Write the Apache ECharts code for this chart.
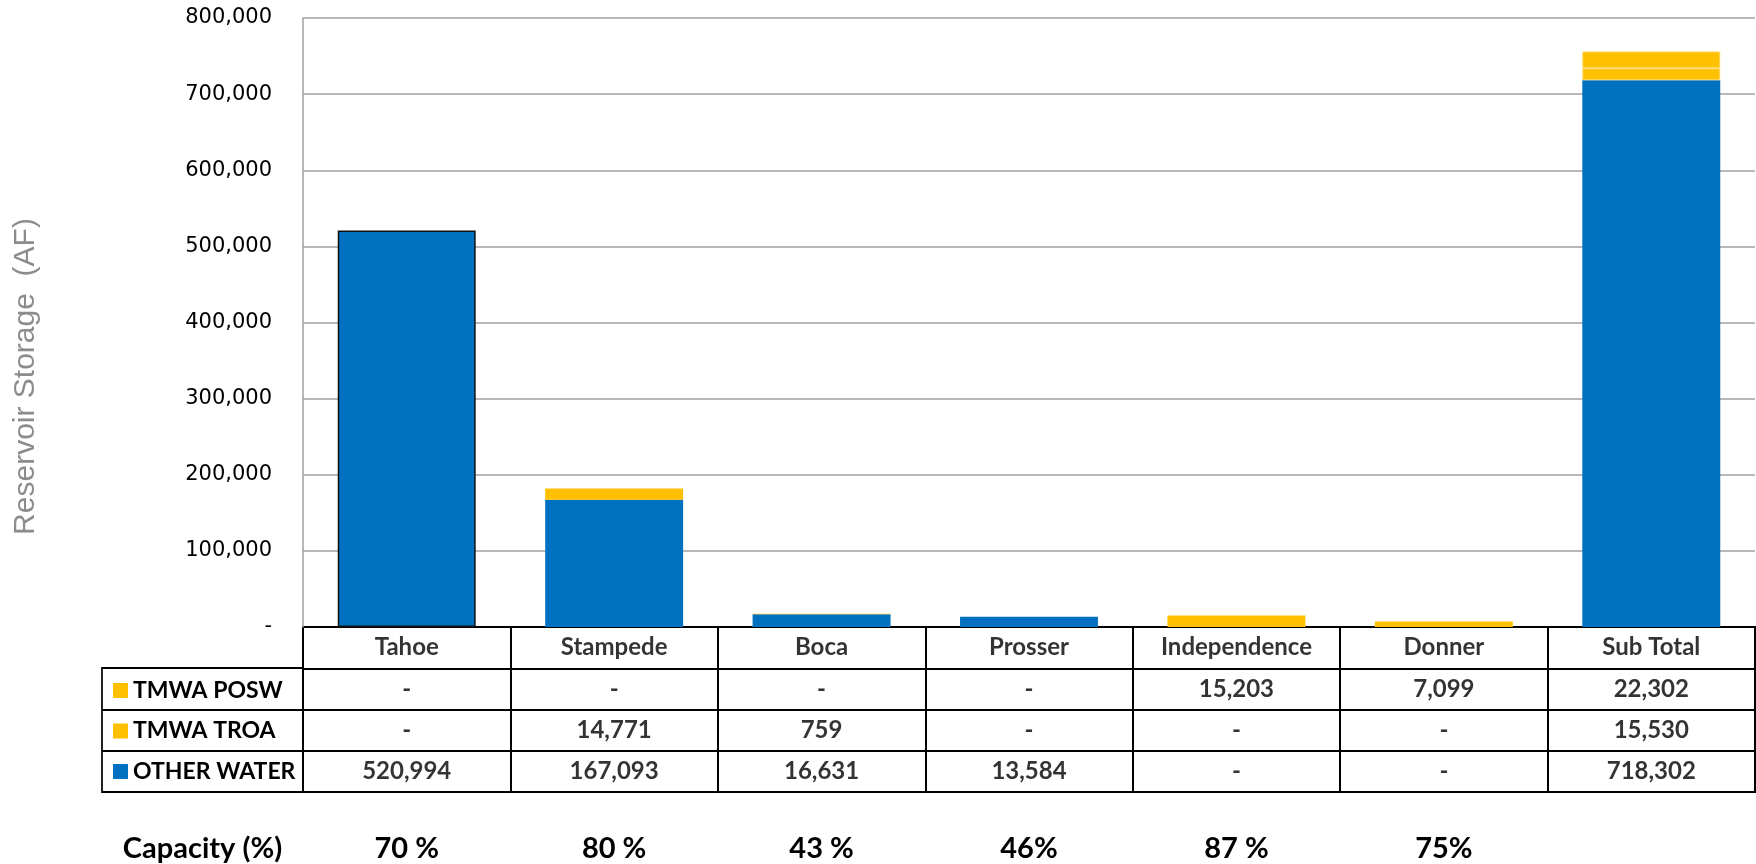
<!DOCTYPE html>
<html>
<head>
<meta charset="utf-8">
<script src="https://cdn.jsdelivr.net/npm/echarts@6/dist/echarts.min.js"></script>
<style>
  html, body { margin: 0; padding: 0; background: #ffffff; }
  #chart { width: 1756px; height: 864px; }
</style>
</head>
<body>
<div id="chart"></div>
<script>
// Reservoir storage by ownership (acre-feet)
const reservoirs = ['Tahoe', 'Stampede', 'Boca', 'Prosser', 'Independence', 'Donner', 'Sub Total'];
const tmwaPosw   = [0, 0, 0, 0, 15203, 7099, 22302];
const tmwaTroa   = [0, 14771, 759, 0, 0, 0, 15530];
const otherWater = [520994, 167093, 16631, 13584, 0, 0, 718302];
const capacity   = ['70 %', '80 %', '43 %', '46%', '87 %', '75%', ''];
const seriesNames = ['TMWA POSW', 'TMWA TROA', 'OTHER WATER'];
const yMin = 0, yMax = 800000, yStep = 100000;

const BLUE = '#0070C0';
const GOLD = '#FFC000';
const TABLE_FONT = { fontFamily: 'Lato', fontWeight: 'bold', color: '#000' };
const SUBTOTAL = reservoirs.length - 1;

const fmt = v => (v === 0 ? '-' : v.toLocaleString('en-US'));

// Table cells: header row of reservoir names, then one row per ownership series
const tableRows = [reservoirs, tmwaPosw.map(fmt), tmwaTroa.map(fmt), otherWater.map(fmt)];
const cellData = [];
tableRows.forEach((row, r) => row.forEach((txt, c) => cellData.push([c, r, txt])));

// Gold segments of the sub-total bar get a thin light edge between them
const goldData = arr => arr.map((v, i) => i === SUBTOTAL
  ? { value: v, itemStyle: { borderColor: '#FFD966', borderWidth: 1 } }
  : v);

const chart = echarts.init(document.getElementById('chart'), null, { renderer: 'canvas' });

chart.setOption({
  animation: false,
  backgroundColor: '#ffffff',
  grid: [
    { left: 303, top: 18, width: 1452, height: 609 },
    { left: 303, top: 627, width: 1452, height: 165, show: true, borderColor: '#000', borderWidth: 2 },
    { left: 102, top: 668, width: 201, height: 124, show: true, borderColor: '#222', borderWidth: 2 }
  ],
  legend: {
    data: seriesNames,
    orient: 'vertical',
    left: 108,
    top: 674,
    icon: 'rect',
    itemWidth: 15,
    itemHeight: 15,
    itemGap: 17.5,
    selectedMode: false,
    textStyle: Object.assign({ fontSize: 23 }, TABLE_FONT)
  },
  xAxis: [
    {
      gridIndex: 0, type: 'category', data: reservoirs,
      axisLine: { show: false }, axisTick: { show: false }, axisLabel: { show: false }
    },
    {
      gridIndex: 1, type: 'category', data: reservoirs, position: 'bottom',
      axisLine: { show: false }, axisTick: { show: false },
      splitLine: { show: true, lineStyle: { color: '#000', width: 2 } },
      axisLabel: Object.assign({
        fontSize: 29, margin: 57, verticalAlign: 'middle',
        formatter: (v, i) => capacity[i]
      }, TABLE_FONT)
    },
    {
      gridIndex: 2, type: 'category', data: ['Capacity (%)'], position: 'bottom',
      axisLine: { show: false }, axisTick: { show: false },
      axisLabel: Object.assign({ fontSize: 29, margin: 57, verticalAlign: 'middle' }, TABLE_FONT)
    }
  ],
  yAxis: [
    {
      gridIndex: 0, type: 'value', min: yMin, max: yMax, interval: yStep,
      name: 'Reservoir Storage  (AF)',
      nameLocation: 'middle',
      nameGap: 262,
      nameRotate: 90,
      nameTextStyle: {
        fontFamily: 'Liberation Sans', fontSize: 30, color: '#8C8C8C',
        padding: [0, 108, 0, 0]
      },
      axisLine: { show: true, lineStyle: { color: '#A0A0A0', width: 1.5 } },
      axisTick: { show: false },
      splitLine: { show: true, lineStyle: { color: '#A0A0A0', width: 1.5 } },
      axisLabel: {
        fontFamily: 'DejaVu Sans', fontSize: 21, color: '#000', margin: 31,
        formatter: v => (v === 0 ? '-' : v.toLocaleString('en-US'))
      }
    },
    {
      gridIndex: 1, type: 'category', data: ['head', 'posw', 'troa', 'other'], inverse: true,
      axisLine: { show: false }, axisTick: { show: false }, axisLabel: { show: false },
      splitLine: { show: true, lineStyle: { color: '#000', width: 2 } }
    },
    {
      gridIndex: 2, type: 'category', data: seriesNames, inverse: true,
      axisLine: { show: false }, axisTick: { show: false }, axisLabel: { show: false },
      splitLine: { show: true, lineStyle: { color: '#000', width: 2 } }
    }
  ],
  series: [
    {
      name: 'OTHER WATER', type: 'bar', stack: 'storage', xAxisIndex: 0, yAxisIndex: 0,
      barWidth: '66.5%',
      itemStyle: { color: BLUE },
      data: otherWater.map((v, i) => i === 0
        ? { value: v, itemStyle: { borderColor: '#111', borderWidth: 1.5 } }
        : v)
    },
    {
      name: 'TMWA TROA', type: 'bar', stack: 'storage', xAxisIndex: 0, yAxisIndex: 0,
      barWidth: '66.5%',
      itemStyle: { color: GOLD },
      data: goldData(tmwaTroa)
    },
    {
      name: 'TMWA POSW', type: 'bar', stack: 'storage', xAxisIndex: 0, yAxisIndex: 0,
      barWidth: '66.5%',
      itemStyle: { color: GOLD },
      data: goldData(tmwaPosw)
    },
    {
      name: 'table', type: 'scatter', xAxisIndex: 1, yAxisIndex: 1,
      symbolSize: 1,
      itemStyle: { color: 'rgba(0,0,0,0)' },
      silent: true,
      label: Object.assign({
        show: true, position: 'inside', fontSize: 24,
        formatter: p => p.value[2]
      }, TABLE_FONT),
      data: cellData
    }
  ]
});
</script>
</body>
</html>
